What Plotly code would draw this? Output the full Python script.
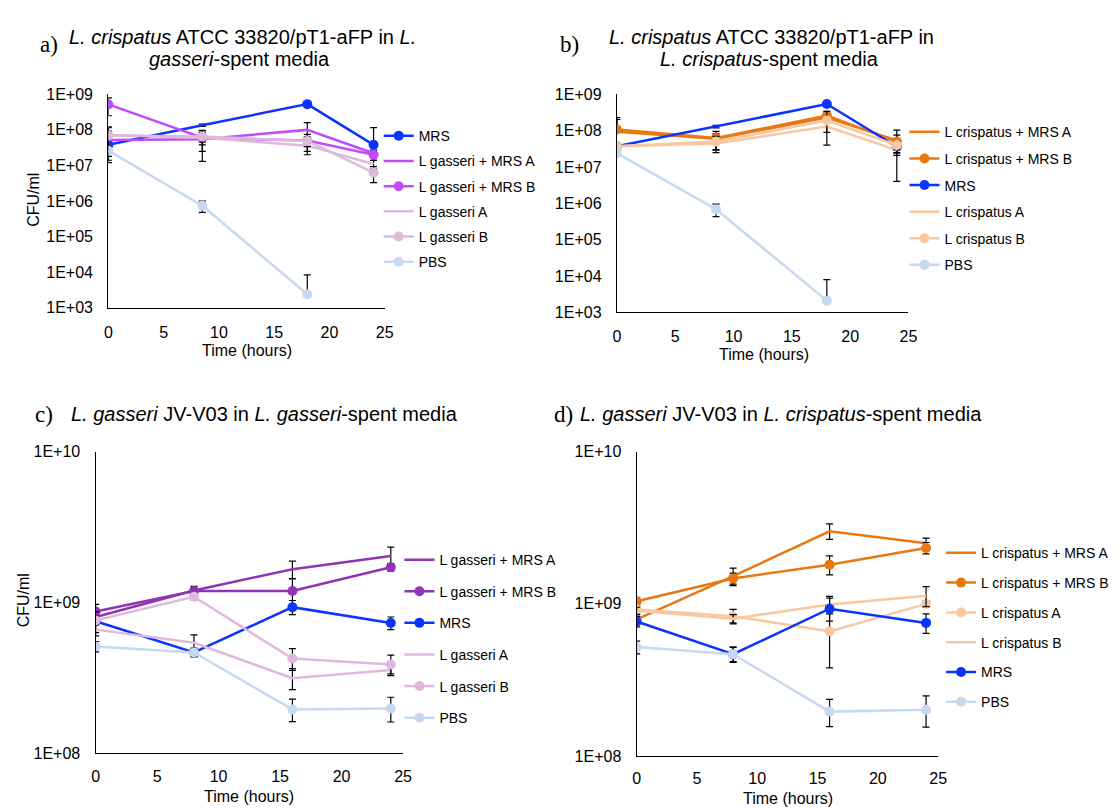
import plotly.graph_objects as go

W, H = 1119, 809

# ---------------- data ----------------
time_ab = [0, 8.5, 18, 24]
time_cd = [0, 8, 16, 24]
x_ticks = [0, 5, 10, 15, 20, 25]

y_ticks_ab = [1e3, 1e4, 1e5, 1e6, 1e7, 1e8, 1e9]
y_labels_ab = ["1E+03", "1E+04", "1E+05", "1E+06", "1E+07", "1E+08", "1E+09"]
y_ticks_cd = [1e8, 1e9, 1e10]
y_labels_cd = ["1E+08", "1E+09", "1E+10"]

# Panel a: L. crispatus in L. gasseri-spent media
a_mrs = [3.8e7, 1.35e8, 5.3e8, 3.8e7]
a_mrs_err = [2.4e7, 1e7, 3e7, 7.8e7]
a_lg_mrs_a = [5.2e7, 5.5e7, 1.0e8, 2.2e7]
a_lg_mrs_a_err = [4e7, 4.2e7, 6e7, 5e6]
a_lg_mrs_b = [5.2e8, 6.0e7, 5.0e7, 2.0e7]
a_lg_mrs_b_err = [2.7e8, 2.2e7, 2.5e7, 6e6]
a_lg_a = [7.2e7, 6.0e7, 3.6e7, 1.1e7]
a_lg_a_err = [5e7, 3.5e7, 1.6e7, 3e6]
a_lg_b = [7.0e7, 6.5e7, 4.9e7, 6.3e6]
a_lg_b_err = [4.5e7, 2e7, 1.5e7, 3e6]
a_pbs = [2.6e7, 7.4e5, 2.4e3]
a_pbs_err = [8e6, 2.6e5, 6e3]

# Panel b: L. crispatus in L. crispatus-spent media
b_lc_mrs_a = [9.3e7, 6.0e7, 2.3e8, 5.4e7]
b_lc_mrs_a_err = [1.1e8, 3.5e7, 5e7, 5e7]
b_lc_mrs_b = [1.07e8, 6.3e7, 2.6e8, 5.0e7]
b_lc_mrs_b_err = [1.2e8, 2e7, 6e7, 2.5e7]
b_mrs = [3.7e7, 1.3e8, 5.4e8, 3.6e7]
b_mrs_err = [5e6, 1e7, 5e7, 1.5e7]
b_lc_a = [3.7e7, 4.4e7, 1.3e8, 2.9e7]
b_lc_a_err = [5e6, 1.5e7, 4e7, 5e6]
b_lc_b = [3.7e7, 5.0e7, 1.9e8, 4.0e7]
b_lc_b_err = [5e6, 2e7, 1.5e8, 1e7]
b_pbs = [2.4e7, 6.9e5, 2.1e3]
b_pbs_err = [3e6, 2.6e5, 5.8e3]

# Panel c: L. gasseri in L. gasseri-spent media
c_lg_mrs_a = [8.0e8, 1.2e9, 1.66e9, 2.03e9]
c_lg_mrs_a_err = [7e7, 8e7, 2.2e8, 3e8]
c_lg_mrs_b = [8.7e8, 1.19e9, 1.19e9, 1.71e9]
c_lg_mrs_b_err = [1e8, 8e7, 2.5e8, 1e8]
c_mrs = [7.5e8, 4.66e8, 9.3e8, 7.3e8]
c_mrs_err = [1.2e8, 3e7, 1e8, 7e7]
c_lg_a = [6.6e8, 5.4e8, 3.14e8, 3.56e8]
c_lg_a_err = [6e7, 7e7, 5e7, 2e7]
c_lg_b = [7.6e8, 1.09e9, 4.24e8, 3.87e8]
c_lg_b_err = [5e7, 5e7, 7e7, 6e7]
c_pbs = [5.1e8, 4.66e8, 1.95e8, 1.98e8]
c_pbs_err = [4e7, 3e7, 3.3e7, 3.7e7]

# Panel d: L. gasseri in L. crispatus-spent media
d_lc_mrs_a = [7.9e8, 1.52e9, 3.0e9, 2.5e9]
d_lc_mrs_a_err = [6e7, 2e8, 3.5e8, 2e8]
d_lc_mrs_b = [1.04e9, 1.47e9, 1.81e9, 2.33e9]
d_lc_mrs_b_err = [6e7, 1.2e8, 2.6e8, 2e8]
d_lc_a = [9.2e8, 8.3e8, 6.6e8, 1.0e9]
d_lc_a_err = [5e7, 9e7, 2.8e8, 5e7]
d_lc_b = [9.0e8, 8.0e8, 9.9e8, 1.13e9]
d_lc_b_err = [5e7, 5e7, 1.3e8, 1.7e8]
d_mrs = [7.66e8, 4.67e8, 9.3e8, 7.5e8]
d_mrs_err = [6e7, 5.5e7, 1.6e8, 1.1e8]
d_pbs = [5.2e8, 4.67e8, 1.96e8, 2.02e8]
d_pbs_err = [5e7, 5e7, 4e7, 4.7e7]

# ---------------- styling ----------------
FONT = "Liberation Sans, Arial, Helvetica, sans-serif"
SERIF = "Liberation Serif, Times New Roman, serif"
BLUE = "#0a33ff"
MAGENTA = "#c04cfd"
LAV = "#ddb9da"
PBSC = "#c7d9f1"
ORANGE = "#ea7812"
PEACH = "#f9c8a0"
PURPLE = "#8e34b4"
PINK = "#e0b8dd"


def px_x(p):
    return p / W


def px_y(p):
    return 1 - p / H


fig = go.Figure()


def add_series(name, x, y, err, color, markers, xa, ya, leg, hide_marker_at=()):
    minus = [e if (v - e) > 0 else 0 for v, e in zip(y, err)]
    extra = {}
    if hide_marker_at:
        extra = dict(selectedpoints=[i for i in range(len(y)) if i not in hide_marker_at],
                     unselected=dict(marker=dict(opacity=0)),
                     selected=dict(marker=dict(opacity=1)))
    fig.add_trace(go.Scatter(
        x=x[:len(y)], y=y, name=name,
        mode="lines+markers" if markers else "lines",
        line=dict(color=color, width=2.5),
        marker=dict(color=color, size=10),
        error_y=dict(type="data", array=err, arrayminus=minus, symmetric=False,
                     color="black", thickness=1.2, width=3.5),
        xaxis=xa, yaxis=ya, legend=leg, legendgroup=leg + name,
        showlegend=True, **extra,
    ))


# panel a
add_series("MRS", time_ab, a_mrs, a_mrs_err, BLUE, True, "x", "y", "legend", hide_marker_at=(1,))
add_series("L gasseri + MRS A", time_ab, a_lg_mrs_a, a_lg_mrs_a_err, MAGENTA, False, "x", "y", "legend")
add_series("L gasseri + MRS B", time_ab, a_lg_mrs_b, a_lg_mrs_b_err, MAGENTA, True, "x", "y", "legend")
add_series("L gasseri A", time_ab, a_lg_a, a_lg_a_err, LAV, False, "x", "y", "legend")
add_series("L gasseri B", time_ab, a_lg_b, a_lg_b_err, LAV, True, "x", "y", "legend")
add_series("PBS", time_ab, a_pbs, a_pbs_err, PBSC, True, "x", "y", "legend")

# panel b
add_series("L crispatus + MRS A", time_ab, b_lc_mrs_a, b_lc_mrs_a_err, ORANGE, False, "x2", "y2", "legend2")
add_series("L crispatus + MRS B", time_ab, b_lc_mrs_b, b_lc_mrs_b_err, ORANGE, True, "x2", "y2", "legend2")
add_series("MRS", time_ab, b_mrs, b_mrs_err, BLUE, True, "x2", "y2", "legend2", hide_marker_at=(1,))
add_series("L crispatus A", time_ab, b_lc_a, b_lc_a_err, PEACH, False, "x2", "y2", "legend2")
add_series("L crispatus B", time_ab, b_lc_b, b_lc_b_err, PEACH, True, "x2", "y2", "legend2")
add_series("PBS", time_ab, b_pbs, b_pbs_err, PBSC, True, "x2", "y2", "legend2")

# panel c
add_series("L gasseri + MRS A", time_cd, c_lg_mrs_a, c_lg_mrs_a_err, PURPLE, False, "x3", "y3", "legend3")
add_series("L gasseri + MRS B", time_cd, c_lg_mrs_b, c_lg_mrs_b_err, PURPLE, True, "x3", "y3", "legend3")
add_series("MRS", time_cd, c_mrs, c_mrs_err, BLUE, True, "x3", "y3", "legend3")
add_series("L gasseri A", time_cd, c_lg_a, c_lg_a_err, PINK, False, "x3", "y3", "legend3")
add_series("L gasseri B", time_cd, c_lg_b, c_lg_b_err, PINK, True, "x3", "y3", "legend3")
add_series("PBS", time_cd, c_pbs, c_pbs_err, PBSC, True, "x3", "y3", "legend3")

# panel d
add_series("L crispatus + MRS A", time_cd, d_lc_mrs_a, d_lc_mrs_a_err, ORANGE, False, "x4", "y4", "legend4")
add_series("L crispatus + MRS B", time_cd, d_lc_mrs_b, d_lc_mrs_b_err, ORANGE, True, "x4", "y4", "legend4")
add_series("L crispatus A", time_cd, d_lc_a, d_lc_a_err, PEACH, True, "x4", "y4", "legend4")
add_series("L crispatus B", time_cd, d_lc_b, d_lc_b_err, PEACH, False, "x4", "y4", "legend4")
add_series("MRS", time_cd, d_mrs, d_mrs_err, BLUE, True, "x4", "y4", "legend4")
add_series("PBS", time_cd, d_pbs, d_pbs_err, PBSC, True, "x4", "y4", "legend4")


def xaxis(x0, x1, anchor, standoff):
    return dict(domain=[px_x(x0), px_x(x1)], anchor=anchor, range=[0, 25],
                tickmode="array", tickvals=x_ticks, ticks="", ticklabelstandoff=standoff,
                showline=True, linecolor="black", linewidth=1.3,
                showgrid=False, zeroline=False,
                tickfont=dict(family=FONT, size=16, color="black"))


def yaxis(y_top, y_bot, anchor, rng, tv, tt):
    return dict(domain=[px_y(y_bot), px_y(y_top)], anchor=anchor, type="log", range=rng,
                tickmode="array", tickvals=tv, ticktext=tt, ticks="", ticklabelstandoff=11,
                showline=True, linecolor="black", linewidth=1.3,
                showgrid=False, zeroline=False,
                tickfont=dict(family=FONT, size=16, color="black"))


def legend(x_text, y_first, gap):
    return dict(x=px_x(x_text - 40), y=px_y(y_first - 15.6), xanchor="left", yanchor="top",
                xref="paper", yref="paper", traceorder="grouped", tracegroupgap=gap,
                bgcolor="rgba(0,0,0,0)", borderwidth=0,
                font=dict(family=FONT, size=14, color="black"))


annotations = []


def text(t, x, y, size=20, family=FONT, angle=0):
    annotations.append(dict(text=t, x=px_x(x), y=px_y(y), xref="paper", yref="paper",
                            xanchor="center", yanchor="middle", showarrow=False,
                            textangle=angle,
                            font=dict(family=family, size=size, color="black")))


# panel titles
text("a)", 37, 29, size=23, family=SERIF)
text("<i>L. crispatus</i> ATCC 33820/pT1-aFP in <i>L.</i>", 233, 21)
text("<i>gasseri</i>-spent media", 230, 44)
text("b)", 564, 29, size=23, family=SERIF)
text("<i>L. crispatus</i> ATCC 33820/pT1-aFP in", 768, 21)
text("<i>L. crispatus</i>-spent media", 766, 44)
text("c)", 32, 407, size=23, family=SERIF)
text("<i>L. gasseri</i> JV-V03 in <i>L. gasseri</i>-spent media", 255, 407)
text("d)", 558, 407, size=23, family=SERIF)
text("<i>L. gasseri</i> JV-V03 in <i>L. crispatus</i>-spent media", 778, 407)

# axis titles
text("Time (hours)", 237.5, 342, size=16)
text("Time (hours)", 760.5, 346, size=16)
text("Time (hours)", 240, 797, size=16)
text("Time (hours)", 785, 799, size=16)
text("CFU/ml", 21, 188, size=16, angle=-90)
text("CFU/ml", 12, 597, size=16, angle=-90)

fig.update_layout(
    width=W, height=H,
    margin=dict(l=0, r=0, t=0, b=0),
    paper_bgcolor="white", plot_bgcolor="white",
    font=dict(family=FONT, color="black"),
    xaxis=xaxis(97.5, 377, "y", 10),
    yaxis=yaxis(80, 298, "x", [3, 9], y_ticks_ab, y_labels_ab),
    xaxis2=xaxis(612, 907, "y2", 9),
    yaxis2=yaxis(80, 302.7, "x2", [3, 9], y_ticks_ab, y_labels_ab),
    xaxis3=xaxis(84.6, 395.7, "y3", 8),
    yaxis3=yaxis(445, 753, "x3", [8, 10], y_ticks_cd, y_labels_cd),
    xaxis4=xaxis(632, 937, "y4", 8),
    yaxis4=yaxis(445, 756, "x4", [8, 10], y_ticks_cd, y_labels_cd),
    legend=legend(411, 122, 4),
    legend2=legend(943, 118, 5.4),
    legend3=legend(432, 555, 10.4),
    legend4=legend(980, 548, 8.6),
    annotations=annotations,
    showlegend=True,
)

fig.write_html("out.html")
